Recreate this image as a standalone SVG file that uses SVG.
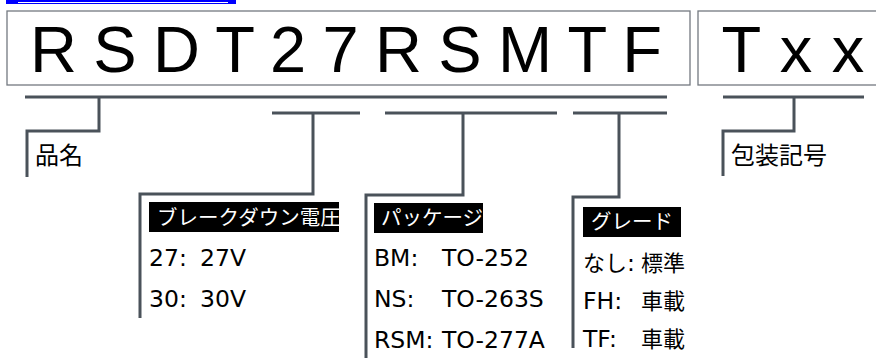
<svg xmlns="http://www.w3.org/2000/svg" width="876" height="358" viewBox="0 0 876 358">
<style>
.big{font-family:"Liberation Sans",Arial,sans-serif;font-size:65px;fill:#000}
.box{fill:#fff;stroke:#737980;stroke-width:1.3}
.ln{fill:none;stroke:#4a525a;stroke-width:3;stroke-linejoin:miter;stroke-linecap:butt}
.lbl{font-family:"Noto Sans CJK JP",sans-serif;font-size:24px;fill:#000}
.hd{font-family:"Noto Sans CJK JP",sans-serif;font-size:20.5px;fill:#fff}
.hdbg{fill:#000}
.row{font-family:"DejaVu Sans","Noto Sans CJK JP",sans-serif;font-size:23.5px;fill:#000}
.j{font-family:"Noto Sans CJK JP",sans-serif;font-size:22px}
</style>
<g id="topbar">
<rect x="6" y="0" width="230" height="4" fill="#0000ff"/>
<line x1="18" y1="2.5" x2="228" y2="2.5" stroke="#ffffff" stroke-width="1"/>
</g>
<g id="partno">
<rect class="box" x="7" y="11" width="683" height="74"/>
<text class="big" x="30" y="72" letter-spacing="-0.85">R S D T 2 7 R S M T F</text>
</g>
<g id="suffix">
<rect class="box" x="698" y="11" width="190" height="74"/>
<text class="big" x="721.5" y="72" letter-spacing="0.8">T x x</text>
</g>
<g id="connectors">
<polyline class="ln" points="25,97 667,97"/>
<polyline class="ln" points="99,97 99,131 27,131 27,177"/>
<polyline class="ln" points="272,113 360,113"/>
<polyline class="ln" points="313,113 313,194 140,194 140,318"/>
<polyline class="ln" points="385,113 557,113"/>
<polyline class="ln" points="463,113 463,195 366,195 366,358"/>
<polyline class="ln" points="573,113 667,113"/>
<polyline class="ln" points="619,113 619,197 573,197 573,348"/>
<polyline class="ln" points="723,97 864,97"/>
<polyline class="ln" points="794,97 794,131 723,131 723,176"/>
</g>
<g id="hinmei">
<text class="lbl" x="35" y="164">品名</text>
</g>
<g id="housou">
<text class="lbl" x="731" y="164">包装記号</text>
</g>
<g id="breakdown">
<rect class="hdbg" x="149" y="202" width="190" height="30"/>
<text class="hd" x="157" y="224.5">ブレークダウン電圧</text>
<text class="row" x="149" y="266">27: <tspan x="200">27V</tspan></text>
<text class="row" x="149" y="307">30: <tspan x="200">30V</tspan></text>
</g>
<g id="package">
<rect class="hdbg" x="374" y="203" width="109" height="30"/>
<text class="hd" x="381" y="225">パッケージ</text>
<text class="row" x="374" y="266">BM: <tspan x="442">TO-252</tspan></text>
<text class="row" x="374" y="307">NS: <tspan x="442">TO-263S</tspan></text>
<text class="row" x="374" y="348">RSM: <tspan x="442">TO-277A</tspan></text>
</g>
<g id="grade">
<rect class="hdbg" x="583" y="207" width="98" height="30"/>
<text class="hd" x="591" y="229">グレード</text>
<text class="row" x="583" y="271"><tspan class="j">なし</tspan>: <tspan class="j" x="641">標準</tspan></text>
<text class="row" x="583" y="309">FH: <tspan class="j" x="641">車載</tspan></text>
<text class="row" x="583" y="347">TF: <tspan class="j" x="641">車載</tspan></text>
</g>
</svg>
